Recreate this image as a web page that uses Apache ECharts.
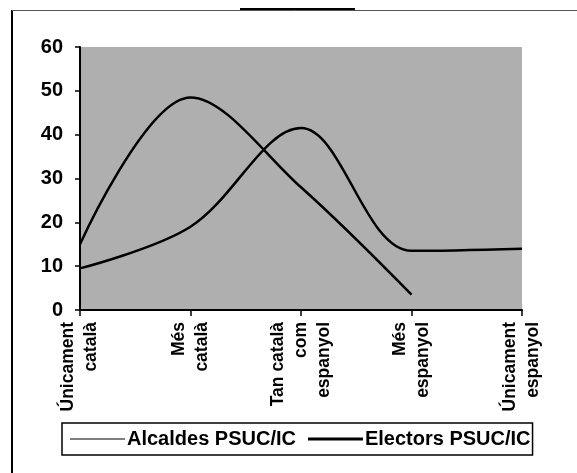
<!DOCTYPE html>
<html>
<head>
<meta charset="utf-8">
<script src="https://cdn.jsdelivr.net/npm/echarts@6/dist/echarts.min.js"></script>
<style>
html,body{margin:0;padding:0;background:#fff;}
#c{width:577px;height:473px;}
</style>
</head>
<body>
<div id="c"></div>
<script>
var categories = ['Únicament\ncatalà', 'Més\ncatalà', 'Tan català\ncom\nespanyol', 'Més\nespanyol', 'Únicament\nespanyol'];
var alcaldes = [15, 48.5, 28, 3.5, null];
var electors = [9.5, 19, 41.5, 13.5, 14];
var seriesNames = ['Alcaldes PSUC/IC', 'Electors PSUC/IC'];
var yTicks = {min: 0, max: 60, interval: 10};

var FONT = '"Liberation Sans", Arial, sans-serif';
var chart = echarts.init(document.getElementById('c'), null, {renderer: 'canvas'});
chart.setOption({
  backgroundColor: '#ffffff',
  animation: false,
  textStyle: {fontFamily: FONT},
  grid: {left: 80, right: 55, top: 47, bottom: 163, show: true, backgroundColor: '#afafaf', borderWidth: 0},
  xAxis: {
    type: 'category',
    data: categories,
    boundaryGap: false,
    axisLine: {lineStyle: {color: '#000', width: 2}},
    axisTick: {show: true, length: 6, lineStyle: {color: '#000', width: 1.5}},
    axisLabel: {rotate: 90, margin: 12, color: '#000', fontSize: 17.5, fontWeight: 'bold', lineHeight: 23, fontFamily: FONT, interval: 0}
  },
  yAxis: {
    type: 'value',
    min: yTicks.min, max: yTicks.max, interval: yTicks.interval,
    splitLine: {show: false},
    axisLine: {show: true, lineStyle: {color: '#000', width: 2}},
    axisTick: {show: true, length: 5, lineStyle: {color: '#000', width: 1.5}},
    axisLabel: {margin: 17, color: '#000', fontSize: 20, fontWeight: 'bold', fontFamily: FONT}
  },
  legend: {
    left: 62, top: 423,
    borderColor: '#000', borderWidth: 1.5,
    padding: [6, 2, 6, 8],
    itemWidth: 55, itemHeight: 3, itemGap: 12,
    textStyle: {fontSize: 20, fontWeight: 'bold', color: '#000', fontFamily: FONT, padding: [0, 0, 0, -3]},
    data: [
      {name: seriesNames[0], icon: 'path://M0,0H55V1H0Z', itemStyle: {color: '#000'}},
      {name: seriesNames[1], icon: 'path://M0,0H55V3H0Z', itemStyle: {color: '#000'}}
    ]
  },
  series: [
    {name: seriesNames[0], type: 'line', data: alcaldes, smooth: 0.35, showSymbol: false, connectNulls: false,
     lineStyle: {color: '#000', width: 2.5}, itemStyle: {color: '#000'}},
    {name: seriesNames[1], type: 'line', data: electors, smooth: 0.35, showSymbol: false,
     lineStyle: {color: '#000', width: 2.5}, itemStyle: {color: '#000'}}
  ],
  graphic: [
    {type: 'line', shape: {x1: 12, y1: 10, x2: 12, y2: 473}, style: {stroke: '#000', lineWidth: 2}},
    {type: 'line', shape: {x1: 12, y1: 10.5, x2: 577, y2: 10.5}, style: {stroke: '#555', lineWidth: 1}},
    {type: 'line', shape: {x1: 240, y1: 9, x2: 355, y2: 9}, style: {stroke: '#000', lineWidth: 2}}
  ]
});
</script>
</body>
</html>
